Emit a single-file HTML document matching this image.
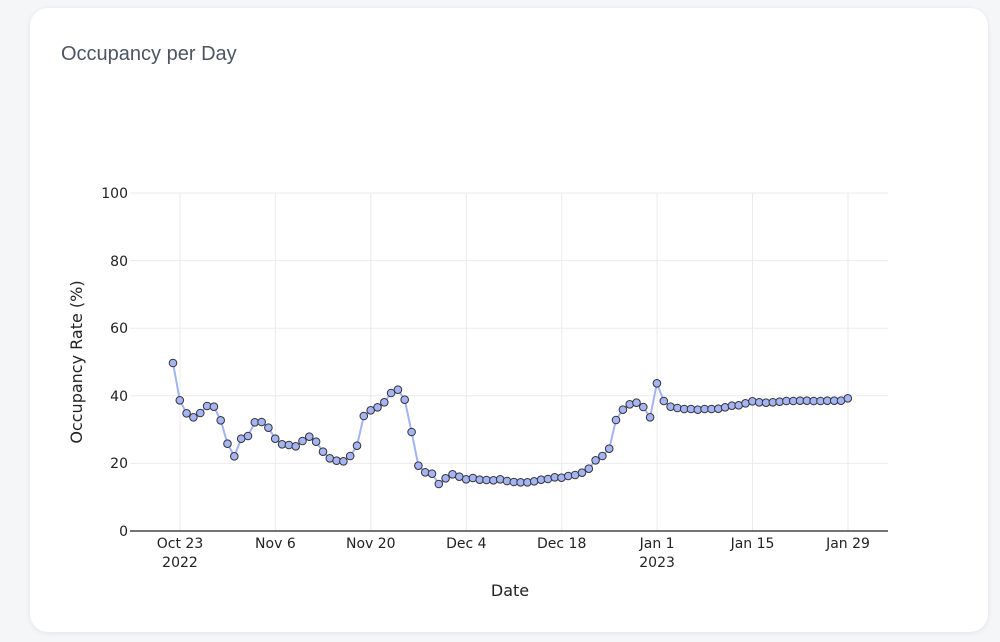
<!DOCTYPE html>
<html><head><meta charset="utf-8"><style>
html,body{margin:0;padding:0;background:#f5f6f8;width:1000px;height:642px;overflow:hidden;font-family:"Liberation Sans",sans-serif}
.card{position:absolute;left:30px;top:8px;width:958px;height:624px;background:#fff;border-radius:18px;box-shadow:0 1px 6px rgba(0,0,0,0.08)}
.title{position:absolute;left:61px;top:43px;font-size:20px;color:#4b5563}
svg{position:absolute;left:0;top:0}
</style></head><body>
<div class="card"></div>
<div class="title">Occupancy per Day</div>
<svg id="s" width="1000" height="642" xmlns="http://www.w3.org/2000/svg" font-family="DejaVu Sans, sans-serif" font-size="14" fill="#222">
<g stroke="#ebebeb" stroke-width="1">
<line x1="130" x2="888" y1="193" y2="193"/><line x1="130" x2="888" y1="260.6" y2="260.6"/><line x1="130" x2="888" y1="328.2" y2="328.2"/><line x1="130" x2="888" y1="395.8" y2="395.8"/><line x1="130" x2="888" y1="463.4" y2="463.4"/>
<line x1="180" x2="180" y1="193" y2="531"/><line x1="275.4" x2="275.4" y1="193" y2="531"/><line x1="370.8" x2="370.8" y1="193" y2="531"/><line x1="466.3" x2="466.3" y1="193" y2="531"/><line x1="561.7" x2="561.7" y1="193" y2="531"/><line x1="657.1" x2="657.1" y1="193" y2="531"/><line x1="752.5" x2="752.5" y1="193" y2="531"/><line x1="848" x2="848" y1="193" y2="531"/>
</g>
<line x1="130" x2="888" y1="531" y2="531" stroke="#222" stroke-width="1.2"/>
<g text-anchor="end"><text x="128" y="198">100</text><text x="128" y="266">80</text><text x="128" y="333">60</text><text x="128" y="401">40</text><text x="128" y="468">20</text><text x="128" y="536">0</text></g>
<g text-anchor="middle"><text x="180" y="548">Oct 23</text><text x="180" y="567">2022</text><text x="275.4" y="548">Nov 6</text><text x="370.8" y="548">Nov 20</text><text x="466.3" y="548">Dec 4</text><text x="561.7" y="548">Dec 18</text><text x="657.1" y="548">Jan 1</text><text x="657.1" y="567">2023</text><text x="752.5" y="548">Jan 15</text><text x="848" y="548">Jan 29</text>
<text x="510" y="596" font-size="16">Date</text>
<text transform="translate(82,362) rotate(-90)" font-size="16">Occupancy Rate (%)</text></g>
<g id="d"></g>
</svg>
<script>
var ys=[363,400.3,413.3,417.3,413,406,406.7,420.3,443.7,456.3,438.7,436,422.3,422,427.7,438.7,444.3,445,446.3,441,436.7,441.7,451.7,458.3,460.7,461.3,456,445.7,416,410.3,407.3,402.3,393,389.7,399.7,432,465.7,472.3,473.7,484,478.3,474.3,476.7,479.3,478,479.7,480,480.3,479.3,481,482,482.3,482.3,481.3,479.7,479,477.3,477.7,476,475,472.7,468.7,460.3,456,448.7,420,409.7,404.3,402.7,407,417.3,383.3,401,406.7,408,409,409,409.7,409,409,408.7,407.3,405.7,405.3,403.3,401.3,402.3,402.7,402.3,401.7,401,401,400.7,400.7,401,401,400.7,400.7,400.7,398.3];
var ns="http://www.w3.org/2000/svg",g=document.getElementById('d'),pts=[];
for(var i=0;i<ys.length;i++)pts.push((173+i*6.816).toFixed(1)+','+ys[i]);
var pl=document.createElementNS(ns,'polyline');pl.setAttribute('points',pts.join(' '));pl.setAttribute('fill','none');pl.setAttribute('stroke','#a3b3f8');pl.setAttribute('stroke-width','2');g.appendChild(pl);
for(var i=0;i<ys.length;i++){var c=document.createElementNS(ns,'circle');c.setAttribute('cx',(173+i*6.816).toFixed(1));c.setAttribute('cy',ys[i]);c.setAttribute('r','3.8');c.setAttribute('fill','#a5b4f5');c.setAttribute('stroke','#333');c.setAttribute('stroke-width','1');g.appendChild(c);}
</script>
</body></html>
